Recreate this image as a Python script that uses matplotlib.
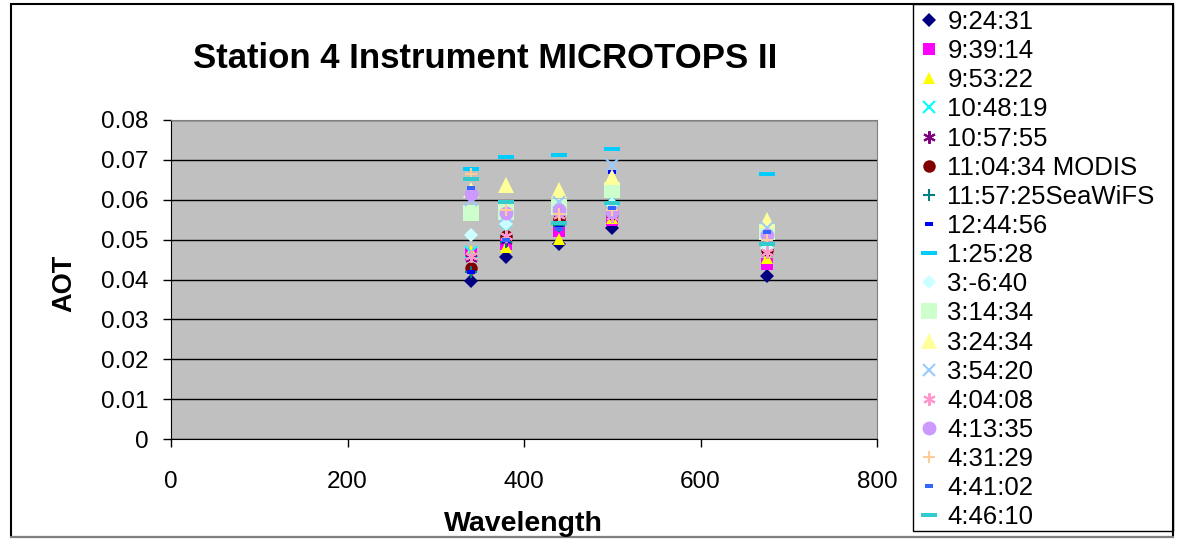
import matplotlib
matplotlib.use("Agg")
import matplotlib.pyplot as plt
from matplotlib.patches import Rectangle
from matplotlib.lines import Line2D

plt.rcParams["font.family"] = ["Liberation Sans", "DejaVu Sans"]

wavelengths = [340, 380, 440, 500, 675]

series_names = [
    "9:24:31", "9:39:14", "9:53:22", "10:48:19", "10:57:55",
    "11:04:34 MODIS", "11:57:25SeaWiFS", "12:44:56", "1:25:28", "3:-6:40",
    "3:14:34", "3:24:34", "3:54:20", "4:04:08", "4:13:35",
    "4:31:29", "4:41:02", "4:46:10",
]

aot_0924 = [0.0397, 0.0456, 0.0490, 0.0530, 0.0408]
aot_0939 = [0.0465, 0.0490, 0.0522, 0.0548, 0.0440]
aot_0953 = [0.0472, 0.0482, 0.0502, 0.0555, 0.0455]
aot_1048 = [0.0470, 0.0524, 0.0580, 0.0600, 0.0500]
aot_1057 = [0.0455, 0.0500, 0.0545, 0.0560, 0.0470]
aot_1104 = [0.0428, 0.0508, 0.0551, 0.0565, 0.0475]
aot_1157 = [0.0420, 0.0495, 0.0535, 0.0570, 0.0480]
aot_1244 = [0.0420, 0.0497, 0.0530, 0.0670, 0.0545]
aot_0125 = [0.0676, 0.0706, 0.0711, 0.0727, 0.0664]
aot_0306 = [0.0512, 0.0539, 0.0570, 0.0590, 0.0480]
aot_0314 = [0.0566, 0.0570, 0.0583, 0.0625, 0.0520]
aot_0324 = [0.0625, 0.0637, 0.0625, 0.0658, 0.0549]
aot_0354 = [0.0600, 0.0560, 0.0595, 0.0687, 0.0530]
aot_0404 = [0.0460, 0.0510, 0.0562, 0.0560, 0.0470]
aot_0413 = [0.0614, 0.0568, 0.0575, 0.0570, 0.0512]
aot_0431 = [0.0665, 0.0575, 0.0565, 0.0575, 0.0500]
aot_0441 = [0.0630, 0.0500, 0.0526, 0.0580, 0.0520]
aot_0446 = [0.0651, 0.0594, 0.0541, 0.0591, 0.0490]

all_values = [
    aot_0924, aot_0939, aot_0953, aot_1048, aot_1057, aot_1104, aot_1157,
    aot_1244, aot_0125, aot_0306, aot_0314, aot_0324, aot_0354, aot_0404,
    aot_0413, aot_0431, aot_0441, aot_0446,
]

long_dash = [(-1, -0.22), (1, -0.22), (1, 0.22), (-1, 0.22)]
short_dash = [(-1, -0.4), (1, -0.4), (1, 0.4), (-1, 0.4)]
asterisk = (6, 2, 0)

# (color, marker, size, edge width)
styles = [
    ("#000080", "D", 7, 0),
    ("#FF00FF", "s", 8, 0),
    ("#FFFF00", "^", 9, 0),
    ("#00FFFF", "x", 8, 1.5),
    ("#800080", asterisk, 9, 1.5),
    ("#800000", "o", 9, 0),
    ("#008080", "+", 9, 1.5),
    ("#0000FF", short_dash, 6, 0),
    ("#00CCFF", long_dash, 12, 0),
    ("#CCFFFF", "D", 7, 0),
    ("#CCFFCC", "s", 11, 0),
    ("#FFFF99", "^", 11, 0),
    ("#99CCFF", "x", 8, 1.5),
    ("#FF99CC", asterisk, 9, 1.5),
    ("#CC99FF", "o", 10, 0),
    ("#FFCC99", "+", 9, 1.5),
    ("#3366FF", short_dash, 6, 0),
    ("#33CCCC", long_dash, 12, 0),
]

W, H = 1179, 560
fig = plt.figure(figsize=(W / 100, H / 100), dpi=100)


def px_rect(x0, y0, x1, y1, **kw):
    # rectangle given in image pixels (y down)
    return Rectangle((x0 / W, 1 - y1 / H), (x1 - x0) / W, (y1 - y0) / H,
                     transform=fig.transFigure, fill=False, **kw)


# chart border and legend box
fig.patches.append(px_rect(11, 4, 1173, 537, edgecolor="black", linewidth=1.5))
fig.add_artist(Line2D([11 / W, 1173 / W], [1 - 537 / H] * 2, transform=fig.transFigure,
                      color="#808080", linewidth=1.5))
fig.patches.append(px_rect(913, 4, 1173, 531, edgecolor="black", linewidth=1))

ax = fig.add_axes([171 / W, 1 - 439 / H, 706 / W, 319 / H])
ax.set_facecolor("#C0C0C0")

handles = []
for name, vals, (color, marker, size, ew) in zip(series_names, all_values, styles):
    h, = ax.plot(wavelengths, vals, linestyle="none", marker=marker, markersize=size,
                 color=color, markeredgecolor=color, markeredgewidth=ew, label=name)
    handles.append(h)

ax.set_xlim(0, 800)
ax.set_ylim(0, 0.08)
ax.set_xticks([0, 200, 400, 600, 800])
ax.set_yticks([0, 0.01, 0.02, 0.03, 0.04, 0.05, 0.06, 0.07, 0.08])
ax.set_yticklabels(["0", "0.01", "0.02", "0.03", "0.04", "0.05", "0.06", "0.07", "0.08"])
ax.yaxis.grid(True, color="black", linewidth=1)
ax.set_axisbelow(True)
ax.tick_params(axis="both", labelsize=17.5, length=6, direction="out", width=1)
ax.tick_params(axis="x", pad=17)
ax.tick_params(axis="y", pad=10)
for side in ["top", "right"]:
    ax.spines[side].set_color("#808080")

fig.text(523 / W, 1 - 524 / H, "Wavelength", ha="center", va="center",
         fontsize=20.5, fontweight="bold")
fig.text(64 / W, 1 - 283 / H, "AOT", ha="center", va="center", rotation=90,
         fontsize=19.5, fontweight="bold")
fig.text(485 / W, 1 - 58 / H, "Station 4 Instrument MICROTOPS II", ha="center",
         va="center", fontsize=25, fontweight="bold")

fig.legend(handles=handles, loc="upper left", bbox_to_anchor=(919 / W, 1 - 10 / H),
           fontsize=18.5, frameon=False, borderpad=0, labelspacing=0.2,
           handlelength=0.8, handletextpad=0.3, borderaxespad=0)

fig.savefig("out.png", dpi=100)
